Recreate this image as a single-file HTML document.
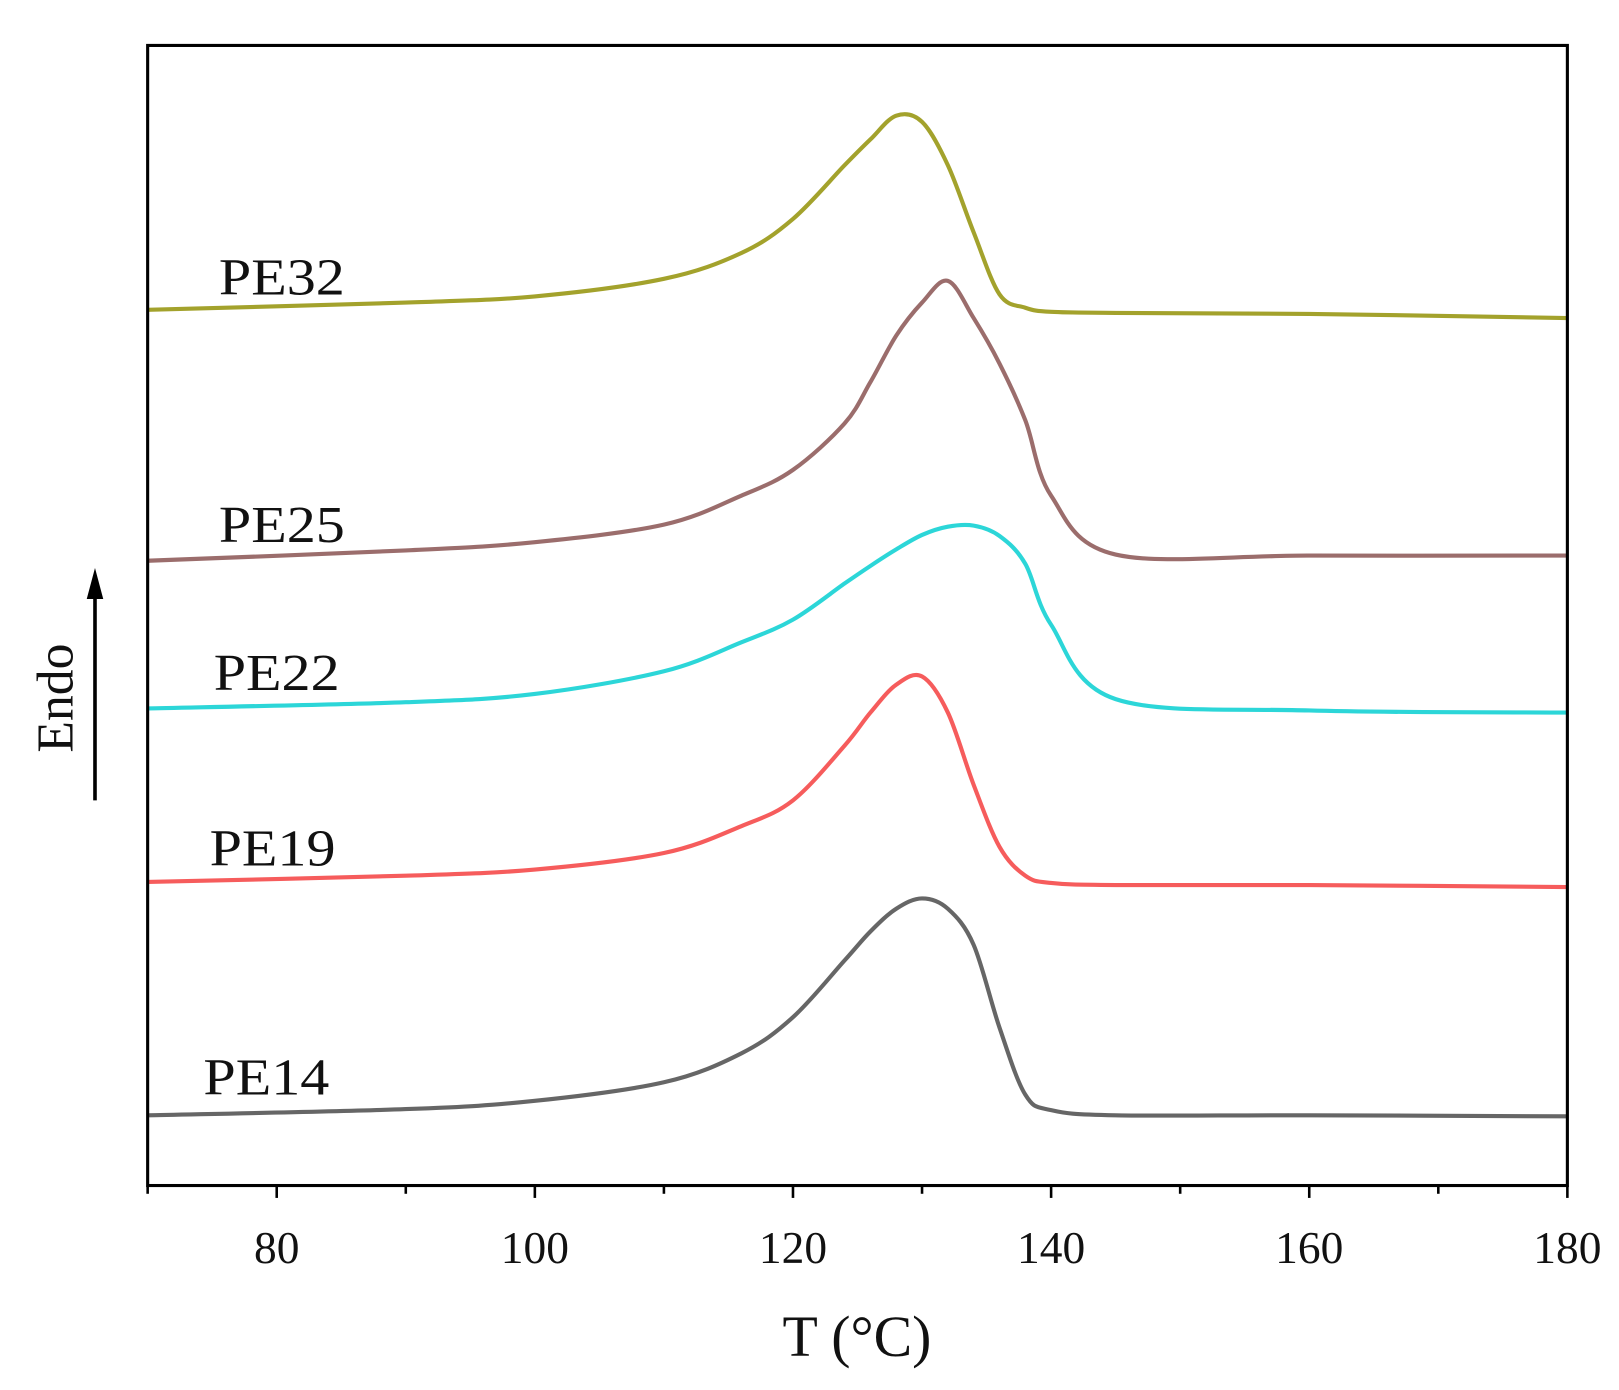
<!DOCTYPE html>
<html><head><meta charset="utf-8"><style>
html,body{margin:0;padding:0;background:#fff}
svg{display:block}
text{font-family:"Liberation Serif",serif;fill:#111}
</style></head><body>
<svg id="chart" width="1619" height="1390" viewBox="0 0 1568 1346" preserveAspectRatio="none" xmlns="http://www.w3.org/2000/svg">
<g id="plot"></g>
</svg>
<script>
const temps = [70,90,100,110,116,120,124,126,128,130,132,134,136,138,140,145,160,180];
const pe32 = [-152,-145,-139,-122,-97,-64,-12,13,36,30,-12,-77,-137,-150,-154,-155,-156,-160];
const pe25 = [-395,-385,-377,-360,-332,-307,-262,-222,-177,-145,-124,-160,-204,-259,-332,-389,-390,-390];
const pe22 = [-538,-532,-524,-502,-474,-452,-417,-400,-384,-370,-362,-361,-371,-398,-457,-529,-540,-542];
const pe19 = [-706,-700,-694,-678,-652,-627,-574,-542,-515,-507,-542,-612,-672,-700,-707,-709,-709,-711];
const pe14 = [-932,-926,-918,-900,-872,-837,-782,-754,-732,-722,-732,-767,-847,-912,-927,-932,-932,-933];
const seriesNames = ["PE32","PE25","PE22","PE19","PE14"];
const seriesColors = ["#a3a22c","#9b6d6c","#2cd6d8","#f65c5c","#666666"];
const xTicks = [80,100,120,140,160,180];
const xMinor = [70,90,110,130,150,170];

const PL=143, PR=1518, PT=44, PB=1148;
const X0=70, X1=180, Y0=-1000, Y1=104;
const xs = t => PL + (t-X0)/(X1-X0)*(PR-PL);
const ys = v => PB - (v-Y0)/(Y1-Y0)*(PB-PT);
const NS="http://www.w3.org/2000/svg";
const g=document.getElementById('plot');
function mk(tag,attrs,parent){const e=document.createElementNS(NS,tag);for(const k in attrs)e.setAttribute(k,attrs[k]);(parent||g).appendChild(e);return e;}
function crPath(pts){let d=`M${pts[0][0]},${pts[0][1]}`;for(let i=0;i<pts.length-1;i++){const p0=pts[i-1]||pts[i],p1=pts[i],p2=pts[i+1],p3=pts[i+2]||p2;const c1=[p1[0]+(p2[0]-p0[0])/6,p1[1]+(p2[1]-p0[1])/6],c2=[p2[0]-(p3[0]-p1[0])/6,p2[1]-(p3[1]-p1[1])/6];d+=`C${c1[0]},${c1[1]} ${c2[0]},${c2[1]} ${p2[0]},${p2[1]}`;}return d;}

const allSeries=[pe32,pe25,pe22,pe19,pe14];
allSeries.forEach((s,i)=>{
  const p=mk('path',{d:crPath(temps.map((t,j)=>[xs(t),ys(s[j])])),fill:'none',stroke:seriesColors[i],'stroke-width':4,'stroke-linejoin':'round'});
  
  
});
const labelPos=[[212,285],[212,525],[207,668],[203,838],[197,1060]];
seriesNames.forEach((n,i)=>{
  const t=mk('text',{x:labelPos[i][0],y:labelPos[i][1],'font-size':50,textLength:122,lengthAdjust:'spacingAndGlyphs'});
  t.textContent=n;
  
  
});
const frame=mk('rect',{x:PL,y:PT,width:PR-PL,height:PB-PT,fill:'none',stroke:'#000','stroke-width':3});


xTicks.forEach(t=>{
  const l=mk('line',{x1:xs(t),x2:xs(t),y1:PB,y2:PB+12,stroke:'#000','stroke-width':2.5});
  
  
  const tx=mk('text',{x:xs(t),y:1223,'font-size':44,'text-anchor':'middle'});
  tx.textContent=t;
  
  
});
xMinor.forEach(t=>{
  const l=mk('line',{x1:xs(t),x2:xs(t),y1:PB,y2:PB+8,stroke:'#000','stroke-width':2.5});
  
  
});
const xt=mk('text',{x:830,y:1313,'font-size':56,'text-anchor':'middle'});
xt.textContent='T (°C)';


const yt=mk('text',{x:0,y:0,'font-size':50,'text-anchor':'middle',transform:'translate(70,676) rotate(-90)'});
yt.textContent='Endo';


const ar=mk('line',{x1:92,x2:92,y1:775,y2:575,stroke:'#000','stroke-width':3.5});


const ah=mk('polygon',{points:'92,550 84,580 100,580',fill:'#000'});


</script>
</body></html>
